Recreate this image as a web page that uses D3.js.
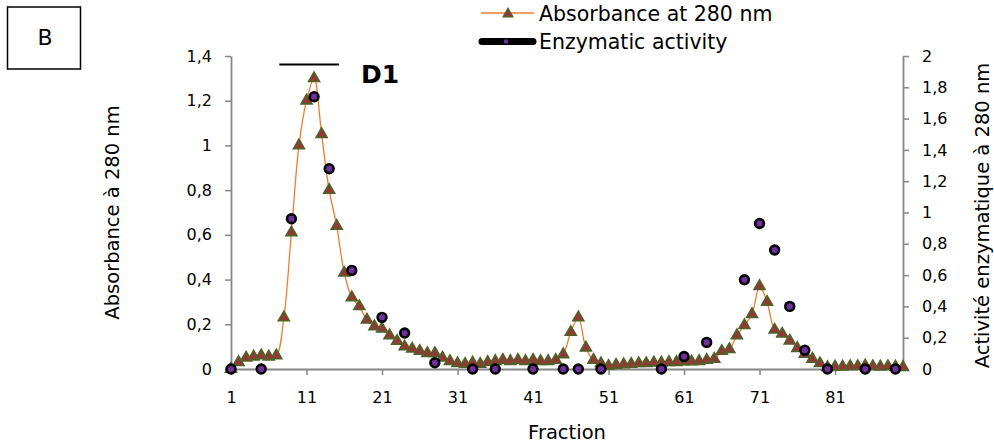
<!DOCTYPE html>
<html>
<head>
<meta charset="utf-8">
<script src="https://cdn.jsdelivr.net/npm/d3@7/dist/d3.min.js"></script>
<style>
  html, body { margin: 0; padding: 0; background: #fff; }
  svg { display: block; font-family: "DejaVu Sans", Verdana, sans-serif; }
</style>
</head>
<body>
<svg id="chart" width="994" height="446"></svg>
<script>
// Fractions collected from the column (1 … 90)
const fractions = d3.range(1, 91);

// Absorbance at 280 nm for each fraction (left axis)
const absorbance = [
  0.00, 0.03, 0.05, 0.055, 0.06, 0.055, 0.06, 0.23, 0.61, 1.00,
  1.20, 1.30, 1.05, 0.80, 0.64, 0.43, 0.32, 0.28, 0.22, 0.19,
  0.18, 0.15, 0.125, 0.10, 0.09, 0.08, 0.07, 0.07, 0.05, 0.035,
  0.025, 0.022, 0.028, 0.022, 0.03, 0.035, 0.04, 0.035, 0.04, 0.035,
  0.04, 0.035, 0.035, 0.04, 0.065, 0.165, 0.23, 0.095, 0.04, 0.025,
  0.013, 0.018, 0.02, 0.022, 0.025, 0.025, 0.028, 0.028, 0.03, 0.03,
  0.033, 0.033, 0.035, 0.04, 0.045, 0.08, 0.088, 0.15, 0.195, 0.245,
  0.37, 0.30, 0.175, 0.157, 0.126, 0.093, 0.067, 0.045, 0.025, 0.008,
  0.01, 0.01, 0.012, 0.012, 0.015, 0.012, 0.01, 0.012, 0.01, 0.008
];

// Enzymatic activity, measured on selected fractions only (right axis)
const activityFractions = [1, 5, 9, 12, 14, 17, 21, 24, 28, 33, 36, 41, 45, 47, 50, 58, 61, 64, 69, 71, 73, 75, 77, 80, 85, 89];
const activityValues    = [0, 0, 0.96, 1.74, 1.28, 0.63, 0.33, 0.23, 0.04, 0, 0, 0, 0, 0, 0, 0, 0.08, 0.17, 0.57, 0.93, 0.76, 0.40, 0.12, 0, 0, 0];

// Axis ticks
const xTickValues = [1, 11, 21, 31, 41, 51, 61, 71, 81];
const leftTickValues = [0, 0.2, 0.4, 0.6, 0.8, 1, 1.2, 1.4];
const rightTickValues = [0, 0.2, 0.4, 0.6, 0.8, 1, 1.2, 1.4, 1.6, 1.8, 2];

// Labels
const panelLabel = "B";
const poolLabel = "D1";
const seriesNames = ["Absorbance at 280 nm", "Enzymatic activity"];
const xTitle = "Fraction";
const leftTitle = "Absorbance à 280 nm";
const rightTitle = "Activité enzymatique à 280 nm";

const svg = d3.select("#chart");
const plot = { left: 231, right: 903, top: 56, bottom: 369 };

const x = d3.scaleLinear().domain([1, 90]).range([plot.left, plot.right]);
const yL = d3.scaleLinear().domain([0, 1.4]).range([plot.bottom, plot.top]);
const yR = d3.scaleLinear().domain([0, 2]).range([plot.bottom, plot.top]);

const comma = d => String(d).replace(".", ",");
const axisColor = "#868686";

function styleAxis(g) {
  g.selectAll(".domain").attr("stroke", axisColor).attr("stroke-width", 1.8);
  g.selectAll(".tick line").attr("stroke", axisColor).attr("stroke-width", 1.5);
  g.selectAll(".tick text").attr("fill", "#000").attr("font-size", 16)
    .attr("font-family", '"DejaVu Sans", Verdana, sans-serif');
}

// Axes
svg.append("g")
  .attr("transform", `translate(0,${plot.bottom})`)
  .call(d3.axisBottom(x).tickValues(xTickValues).tickSize(6).tickSizeOuter(0).tickPadding(17).tickFormat(d3.format("d")))
  .call(styleAxis);

svg.append("g")
  .attr("transform", `translate(${plot.left},0)`)
  .call(d3.axisLeft(yL).tickValues(leftTickValues).tickSize(6).tickSizeOuter(0).tickPadding(13).tickFormat(comma))
  .call(styleAxis);

svg.append("g")
  .attr("transform", `translate(${plot.right},0)`)
  .call(d3.axisRight(yR).tickValues(rightTickValues).tickSize(6).tickSizeOuter(0).tickPadding(13).tickFormat(comma))
  .call(styleAxis);

// Axis titles
svg.append("text")
  .attr("x", (plot.left + plot.right) / 2).attr("y", 439)
  .attr("text-anchor", "middle").attr("font-size", 19.5)
  .text(xTitle);

svg.append("text")
  .attr("transform", `translate(119,${(plot.top + plot.bottom) / 2}) rotate(-90)`)
  .attr("text-anchor", "middle").attr("font-size", 19.5)
  .text(leftTitle);

svg.append("text")
  .attr("transform", `translate(989,${(plot.top + plot.bottom) / 2 + 3}) rotate(-90)`)
  .attr("text-anchor", "middle").attr("font-size", 19.5)
  .text(rightTitle);

// Absorbance profile (smoothed line)
const absData = fractions.map((f, i) => ({ f, v: absorbance[i] }));
svg.append("path")
  .datum(absData)
  .attr("fill", "none")
  .attr("stroke", "#ED7D31")
  .attr("stroke-width", 1.3)
  .attr("d", d3.line().x(d => x(d.f)).y(d => yL(d.v)).curve(d3.curveCatmullRom.alpha(0.5)));

// Triangle markers
const tri = d3.symbol().type(d3.symbolTriangle).size(52);
svg.append("g").selectAll("path")
  .data(absData)
  .join("path")
  .attr("transform", d => `translate(${x(d.f)},${yL(d.v)})`)
  .attr("d", tri)
  .attr("fill", "#953735")
  .attr("stroke", "#4F6228")
  .attr("stroke-width", 1.6);

// Enzymatic activity markers
const actData = activityFractions.map((f, i) => ({ f, v: activityValues[i] }));
svg.append("g").selectAll("circle")
  .data(actData)
  .join("circle")
  .attr("cx", d => x(d.f))
  .attr("cy", d => yR(d.v))
  .attr("r", 4.4)
  .attr("fill", "#7030A0")
  .attr("stroke", "#000")
  .attr("stroke-width", 2.6);

// Pool bar and label
svg.append("line")
  .attr("x1", x(7.4)).attr("x2", x(15.3))
  .attr("y1", 64.5).attr("y2", 64.5)
  .attr("stroke", "#000").attr("stroke-width", 2);
svg.append("text")
  .attr("x", 361).attr("y", 83)
  .attr("font-size", 25).attr("font-weight", "bold")
  .text(poolLabel);

// Panel label box
svg.append("rect")
  .attr("x", 7.5).attr("y", 7).attr("width", 73).attr("height", 62)
  .attr("fill", "none").attr("stroke", "#000").attr("stroke-width", 1.5);
svg.append("text")
  .attr("x", 45).attr("y", 45)
  .attr("text-anchor", "middle").attr("font-size", 22)
  .text(panelLabel);

// Legend
const lg = svg.append("g");
lg.append("line").attr("x1", 481).attr("x2", 534).attr("y1", 13).attr("y2", 13)
  .attr("stroke", "#ED7D31").attr("stroke-width", 1.3);
lg.append("path").attr("transform", "translate(508,14)")
  .attr("d", d3.symbol().type(d3.symbolTriangle).size(40))
  .attr("fill", "#953735").attr("stroke", "#4F6228").attr("stroke-width", 1.4);
lg.append("text").attr("x", 539).attr("y", 21).attr("font-size", 20.5).text(seriesNames[0]);

lg.append("line").attr("x1", 482).attr("x2", 533).attr("y1", 41.5).attr("y2", 41.5)
  .attr("stroke", "#000").attr("stroke-width", 7).attr("stroke-linecap", "round");
lg.append("circle").attr("cx", 506).attr("cy", 41.5).attr("r", 2.2).attr("fill", "#7030A0");
lg.append("text").attr("x", 539).attr("y", 49).attr("font-size", 20.5).text(seriesNames[1]);
</script>
</body>
</html>
